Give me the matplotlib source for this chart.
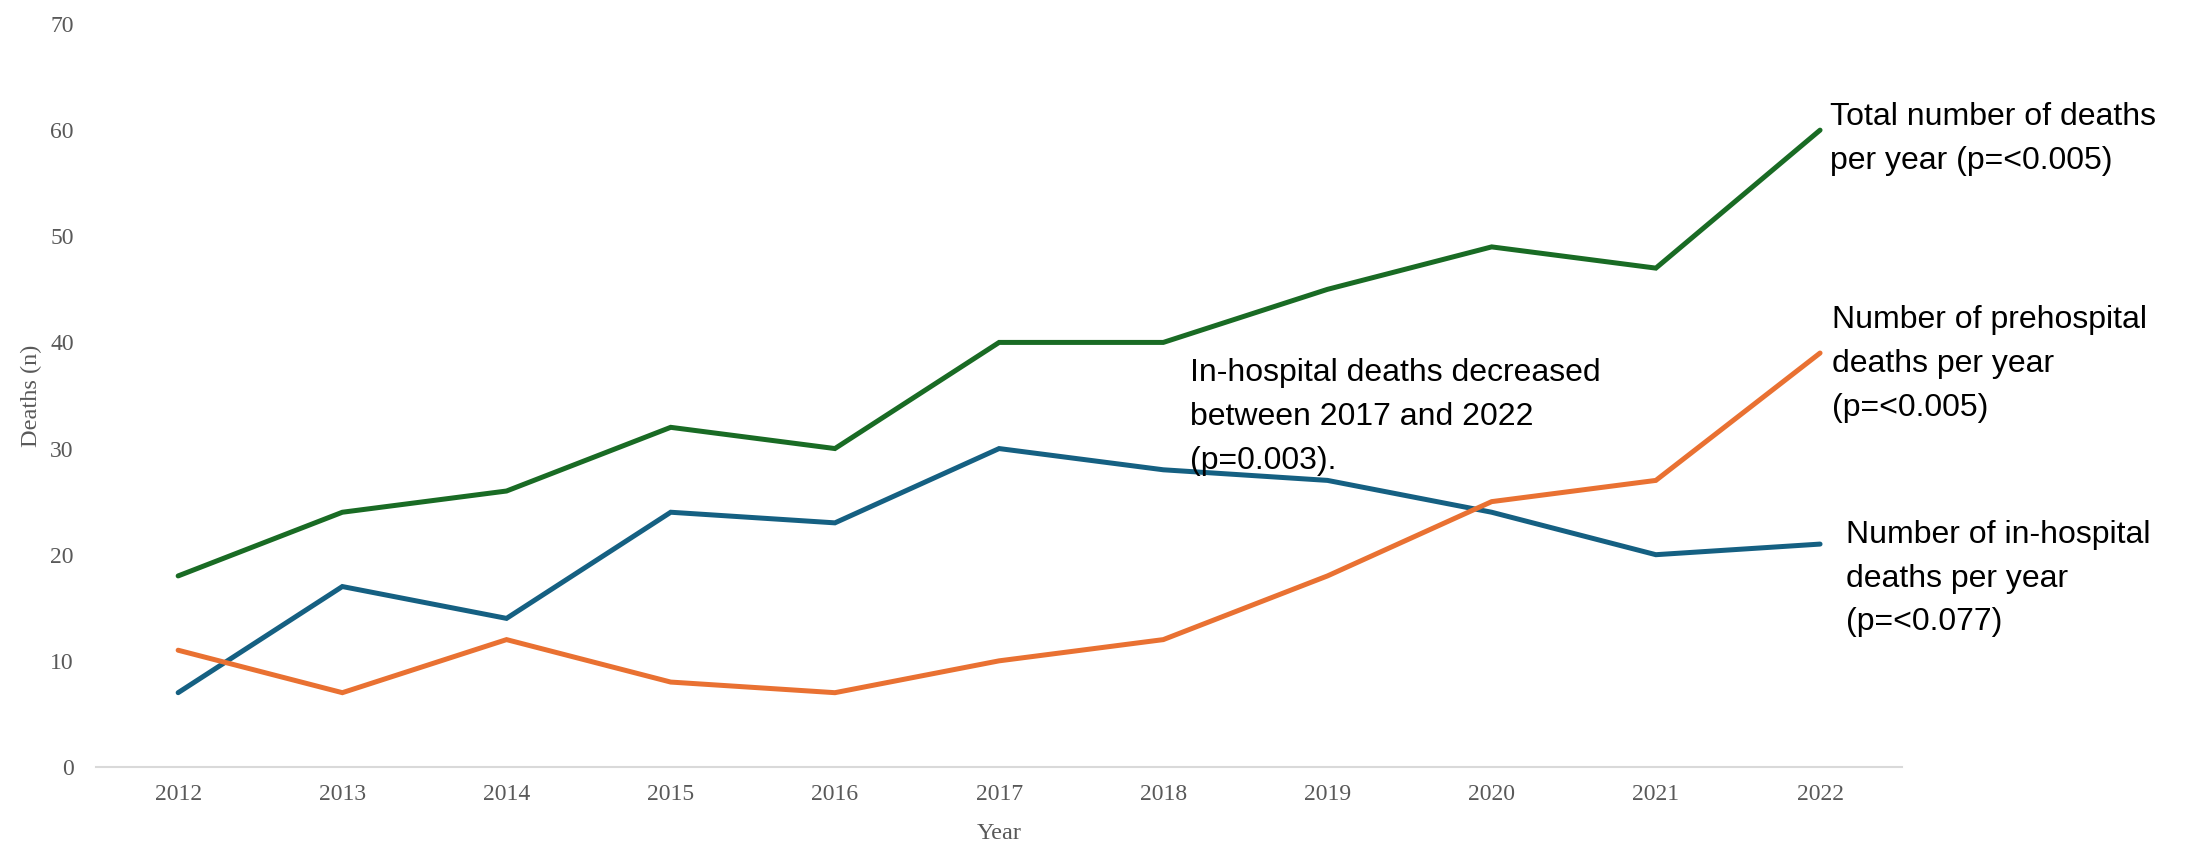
import matplotlib.pyplot as plt
import numpy as np

years = ["2012", "2013", "2014", "2015", "2016", "2017", "2018", "2019", "2020", "2021", "2022"]
total = [18, 24, 26, 32, 30, 40, 40, 45, 49, 47, 60]
in_hospital = [7, 17, 14, 24, 23, 30, 28, 27, 24, 20, 21]
prehospital = [11, 7, 12, 8, 7, 10, 12, 18, 25, 27, 39]

fig = plt.figure(figsize=(21.98, 8.42), dpi=100)
ax = fig.add_axes([0.0437, 0.0891, 0.8217, 0.8824])

x = np.arange(len(years))
ax.plot(x, total, color="#196B24", lw=3.6, solid_capstyle="round", solid_joinstyle="miter")
ax.plot(x, in_hospital, color="#156082", lw=3.6, solid_capstyle="round", solid_joinstyle="miter")
ax.plot(x, prehospital, color="#E97132", lw=3.6, solid_capstyle="round", solid_joinstyle="miter")

ax.set_xlim(-0.5, 10.5)
ax.set_ylim(0, 70)
ax.set_xticks(x)
ax.set_xticklabels(years)
ax.set_yticks(np.arange(0, 71, 10))

serif = ["Liberation Serif", "DejaVu Serif"]
for lab in ax.get_xticklabels() + ax.get_yticklabels():
    lab.set_family(serif)
    lab.set_fontsize(17)
    lab.set_color("#595959")
ax.tick_params(length=0)
ax.tick_params(axis="x", pad=12)
ax.tick_params(axis="y", pad=16)

for s in ["top", "right", "left"]:
    ax.spines[s].set_visible(False)
ax.spines["bottom"].set_color("#D9D9D9")
ax.spines["bottom"].set_linewidth(1.5)

ax.set_xlabel("Year", family=serif, fontsize=17.5, color="#595959", labelpad=13)
ax.set_ylabel("Deaths (n)", family=serif, fontsize=17.5, color="#595959", labelpad=6)

sans = ["Liberation Sans", "DejaVu Sans"]
kw = dict(family=sans, fontsize=23, color="black", va="center", ha="left",
          linespacing=1.6, clip_on=False)
ax.text(10.06, 59.2, "Total number of deaths\nper year (p=<0.005)", **kw)
ax.text(10.07, 37.95, "Number of prehospital\ndeaths per year\n(p=<0.005)", **kw)
ax.text(10.16, 17.75, "Number of in-hospital\ndeaths per year\n(p=<0.077)", **kw)
ax.text(6.16, 33.0, "In-hospital deaths decreased\nbetween 2017 and 2022\n(p=0.003).", **kw)

fig.savefig("out.png", dpi=100)
